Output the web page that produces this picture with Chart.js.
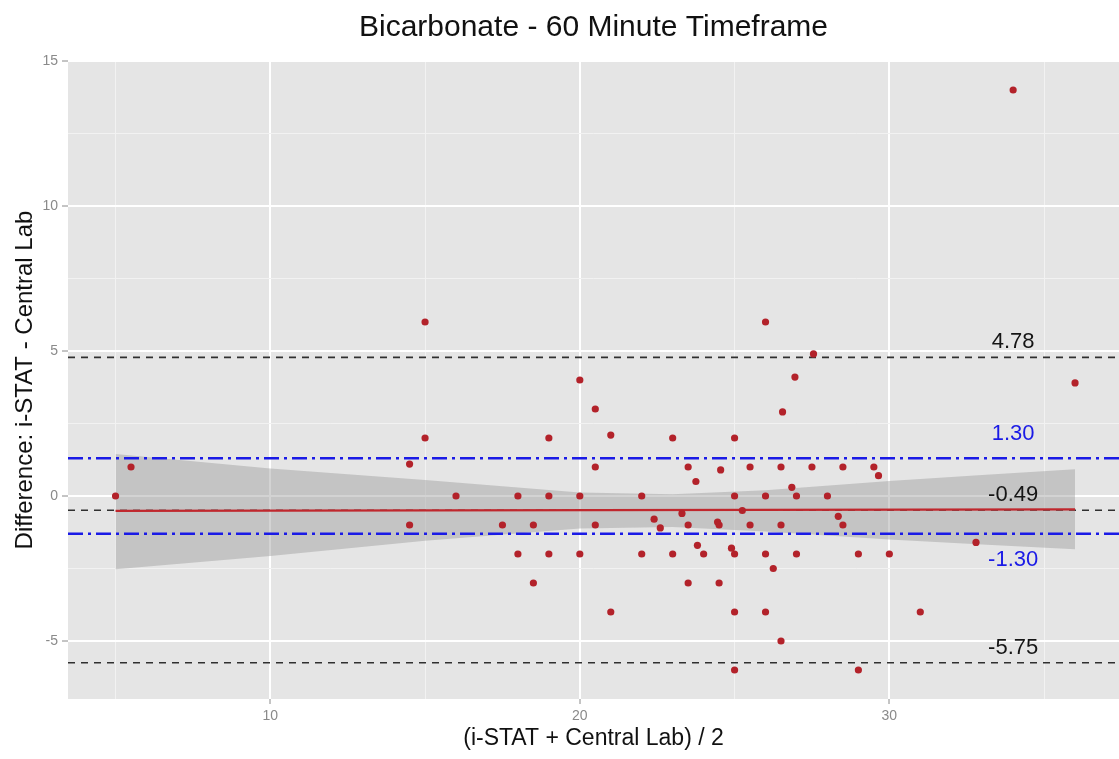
<!DOCTYPE html>
<html>
<head>
<meta charset="utf-8">
<title>Bicarbonate - 60 Minute Timeframe</title>
<script src="https://cdn.jsdelivr.net/npm/chart.js@4/dist/chart.umd.min.js"></script>
<style>
  html, body { margin: 0; padding: 0; background: #ffffff; }
  #wrap { width: 1119px; height: 759px; }
</style>
</head>
<body>
<div id="wrap"><canvas id="chart" width="1119" height="759"></canvas></div>
<script>
// Mean of the two methods (x) and their difference (y), one entry per sample
const meanValues = [
  5, 5.5,
  14.5, 14.5, 15, 15, 16, 17.5, 18, 18, 18.5, 18.5,
  19, 19, 19, 20, 20, 20, 20.5, 20.5, 20.5, 21, 21,
  22, 22, 22.4, 22.6, 23, 23, 23.3, 23.5, 23.5, 23.5, 23.75, 23.8,
  24, 24.45, 24.5, 24.55, 24.5, 24.9,
  25, 25, 25, 25, 25, 25.25, 25.5, 25.5,
  26, 26, 26, 26, 26.25, 26.5, 26.5, 26.5, 26.55, 26.85, 26.95,
  27, 27, 27.5, 27.55, 28, 28.35, 28.5, 28.5,
  29, 29, 29.5, 29.65, 30, 31, 32.8, 34, 36
];
const diffValues = [
  0, 1,
  1.1, -1, 6, 2, 0, -1, 0, -2, -1, -3,
  2, 0, -2, 4, 0, -2, 3, 1, -1, 2.1, -4,
  0, -2, -0.8, -1.1, 2, -2, -0.6, 1, -1, -3, 0.5, -1.7,
  -2, -0.9, -1, 0.9, -3, -1.8,
  2, 0, -2, -4, -6, -0.5, 1, -1,
  6, 0, -2, -4, -2.5, 1, -1, -5, 2.9, 0.3, 4.1,
  0, -2, 1, 4.9, 0, -0.7, 1, -1,
  -2, -6, 1, 0.7, -2, -4, -1.6, 14, 3.9
];

// Linear fit of difference on mean, with its confidence band
const fitX = [5, 36];
const fitY = [-0.51, -0.46];
const bandX  = [5, 10, 15, 20, 23, 26, 30, 33, 36];
const bandHi = [1.45, 0.95, 0.55, 0.12, 0.06, 0.20, 0.52, 0.72, 0.92];
const bandLo = [-2.53, -2.07, -1.54, -1.12, -1.07, -1.22, -1.50, -1.67, -1.84];

// Bias and limits of agreement (dashed) and the +/-1.30 reference band (dot-dash)
const agreementLines = [4.78, -0.49, -5.75];
const referenceLines = [1.30, -1.30];

// Axis ticks
const xMajorTicks = [10, 20, 30];
const xMinorTicks = [5, 15, 25, 35];
const yMajorTicks = [15, 10, 5, 0, -5];
const yMinorTicks = [12.5, 7.5, 2.5, -2.5];

const X_MIN = 3.464, X_MAX = 37.42;
const Y_MIN = -7, Y_MAX = 15;
const LABEL_X = 34;

const FONT = '"Liberation Sans", Arial, Helvetica, sans-serif';

const points = meanValues.map((m, i) => ({ x: m, y: diffValues[i] }));
const span = v => [{ x: X_MIN, y: v }, { x: X_MAX, y: v }];

const datasets = [];
agreementLines.forEach(v => datasets.push({
  data: span(v), showLine: true, pointRadius: 0,
  borderColor: '#303030', borderWidth: 1.6, borderDash: [7, 6], order: 5
}));
datasets.push({
  data: bandX.map((x, i) => ({ x, y: bandLo[i] })), showLine: true, pointRadius: 0,
  borderWidth: 0, borderColor: 'rgba(0,0,0,0)', fill: false, order: 4
});
datasets.push({
  data: bandX.map((x, i) => ({ x, y: bandHi[i] })), showLine: true, pointRadius: 0,
  borderWidth: 0, borderColor: 'rgba(0,0,0,0)', fill: '-1',
  backgroundColor: 'rgba(150,150,150,0.42)', order: 4
});
datasets.push({
  data: fitX.map((x, i) => ({ x, y: fitY[i] })), showLine: true, pointRadius: 0,
  borderColor: '#c0272d', borderWidth: 2.2, order: 3
});
referenceLines.forEach(v => datasets.push({
  data: span(v), showLine: true, pointRadius: 0,
  borderColor: '#1a1ae6', borderWidth: 2.6, borderDash: [15, 5, 3, 5], order: 2
}));
datasets.push({
  data: points, showLine: false, pointRadius: 3.6, pointHoverRadius: 3.6,
  pointBackgroundColor: '#b3222a', pointBorderWidth: 0, order: 1
});

// Grey panel behind the grid
const panelPlugin = {
  id: 'panel',
  beforeDraw(chart) {
    const { ctx, chartArea: a } = chart;
    ctx.save();
    ctx.fillStyle = '#e5e5e5';
    ctx.fillRect(a.left, a.top, a.right - a.left, a.bottom - a.top);
    ctx.restore();
  }
};

// Value labels beside the horizontal lines
const lineLabelPlugin = {
  id: 'lineLabels',
  afterDatasetsDraw(chart) {
    const { ctx, scales: { x, y } } = chart;
    ctx.save();
    ctx.font = '22px ' + FONT;
    ctx.textAlign = 'center';
    ctx.textBaseline = 'middle';
    const px = x.getPixelForValue(LABEL_X);
    ctx.fillStyle = '#151515';
    agreementLines.forEach(v => {
      ctx.fillText(v.toFixed(2), px, y.getPixelForValue(v + 0.52));
    });
    ctx.fillStyle = '#1a1ae6';
    referenceLines.forEach(v => {
      const off = v > 0 ? 0.85 : -0.9;
      ctx.fillText(v.toFixed(2), px, y.getPixelForValue(v + off));
    });
    ctx.restore();
  }
};

const isMajor = (list, v) => list.some(t => Math.abs(t - v) < 1e-9);

new Chart(document.getElementById('chart'), {
  type: 'scatter',
  data: { datasets },
  options: {
    responsive: false,
    animation: false,
    devicePixelRatio: 1,
    layout: { autoPadding: false, padding: 0 },
    plugins: {
      legend: { display: false },
      tooltip: { enabled: false },
      title: {
        display: true,
        text: 'Bicarbonate - 60 Minute Timeframe',
        fullSize: false,
        color: '#111111',
        font: { family: FONT, size: 30, weight: 'normal', lineHeight: 1.2 },
        padding: { top: 10, bottom: 15 }
      }
    },
    scales: {
      x: {
        type: 'linear',
        min: X_MIN, max: X_MAX,
        afterBuildTicks(scale) {
          scale.ticks = xMajorTicks.concat(xMinorTicks).sort((a, b) => a - b).map(v => ({ value: v }));
        },
        afterFit(scale) { scale.height = 60; },
        border: { display: false },
        grid: {
          color: c => isMajor(xMajorTicks, c.tick.value) ? '#ffffff' : '#f2f2f2',
          lineWidth: c => isMajor(xMajorTicks, c.tick.value) ? 2 : 1,
          tickColor: c => isMajor(xMajorTicks, c.tick.value) ? '#8a8a8a' : 'rgba(0,0,0,0)',
          tickLength: 5,
          tickWidth: 1
        },
        ticks: {
          autoSkip: false,
          maxRotation: 0,
          padding: 4,
          color: '#8a8a8a',
          font: { family: FONT, size: 14 },
          callback: v => isMajor(xMajorTicks, v) ? String(v) : ''
        },
        title: {
          display: true,
          text: '(i-STAT + Central Lab) / 2',
          color: '#111111',
          font: { family: FONT, size: 23, lineHeight: 1.2 },
          padding: { top: 0, bottom: 7 }
        }
      },
      y: {
        type: 'linear',
        min: Y_MIN, max: Y_MAX,
        afterBuildTicks(scale) {
          scale.ticks = yMajorTicks.concat(yMinorTicks).sort((a, b) => a - b).map(v => ({ value: v }));
        },
        afterFit(scale) { scale.width = 68; },
        border: { display: false },
        grid: {
          color: c => isMajor(yMajorTicks, c.tick.value) ? '#ffffff' : '#f2f2f2',
          lineWidth: c => isMajor(yMajorTicks, c.tick.value) ? 2 : 1,
          tickColor: c => isMajor(yMajorTicks, c.tick.value) ? '#8a8a8a' : 'rgba(0,0,0,0)',
          tickLength: 6,
          tickWidth: 1
        },
        ticks: {
          autoSkip: false,
          padding: 4,
          color: '#8a8a8a',
          font: { family: FONT, size: 14 },
          callback: v => isMajor(yMajorTicks, v) ? String(v) : ''
        },
        title: {
          display: true,
          text: 'Difference: i-STAT - Central Lab',
          color: '#111111',
          font: { family: FONT, size: 24, lineHeight: 1.2 },
          padding: { top: 11, bottom: 0 }
        }
      }
    }
  },
  plugins: [panelPlugin, lineLabelPlugin]
});
</script>
</body>
</html>
